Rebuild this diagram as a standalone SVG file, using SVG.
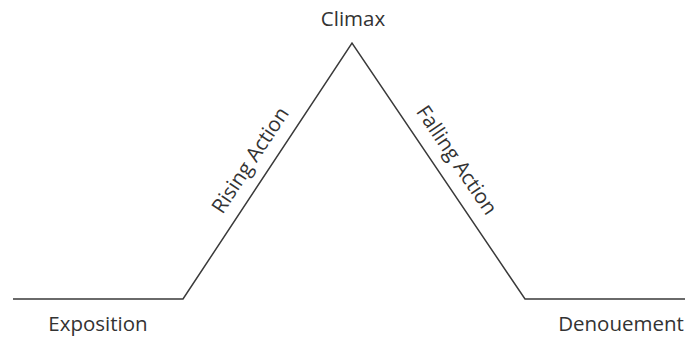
<svg xmlns="http://www.w3.org/2000/svg" width="685" height="337" viewBox="0 0 685 337">
<style>
.lbl{font-family:"Open Sans","Noto Sans",sans-serif;font-size:20.5px;fill:#333;text-anchor:middle}
.ln{fill:none;stroke:#3a3a3a;stroke-width:1.5;stroke-linejoin:miter}
</style>
<rect width="685" height="337" fill="#fff"/>
<g id="connectors">
<polyline class="ln" points="13,299 183,299 352,43 525,299 690,299"/>
</g>
<g id="climax"><text class="lbl" x="353" y="26">Climax</text></g>
<g id="rising"><text class="lbl" transform="translate(256,164) rotate(-56.6)" x="0" y="0">Rising Action</text></g>
<g id="falling"><text class="lbl" transform="translate(451,164) rotate(55.9)" x="0" y="0">Falling Action</text></g>
<g id="exposition"><text class="lbl" x="98" y="331">Exposition</text></g>
<g id="denouement"><text class="lbl" x="621" y="331">Denouement</text></g>
</svg>
